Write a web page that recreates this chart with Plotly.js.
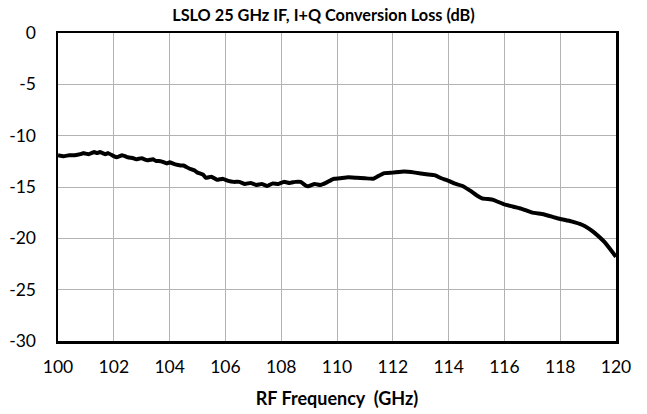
<!DOCTYPE html>
<html>
<head>
<meta charset="utf-8">
<script src="https://cdn.plot.ly/plotly-3.0.1.min.js"></script>
<style>html,body{margin:0;padding:0;background:#fff;}#chart{width:647px;height:414px;}</style>
</head>
<body>
<div id="chart"></div>
<script>
const freqGHz = [100.0,100.2,100.4,100.6,100.8,100.9,101.1,101.3,101.4,101.5,101.7,101.8,102.0,102.1,102.3,102.5,102.7,102.8,103.0,103.2,103.4,103.5,103.7,103.9,104.0,104.2,104.4,104.5,104.7,104.9,105.0,105.2,105.3,105.5,105.7,105.9,106.1,106.3,106.5,106.7,106.9,107.1,107.3,107.5,107.7,107.9,108.1,108.3,108.5,108.7,108.9,109.0,109.2,109.4,109.6,109.8,109.9,110.1,110.4,110.7,111.0,111.3,111.5,111.7,112.0,112.4,112.8,113.2,113.5,113.7,114.0,114.2,114.5,114.8,115.0,115.2,115.6,116.0,116.3,116.6,117.0,117.4,117.9,118.4,118.8,119.0,119.2,119.6,120.0];
const lossDB  = [-11.9,-12.0,-11.9,-11.9,-11.8,-11.7,-11.8,-11.6,-11.7,-11.6,-11.8,-11.7,-12.0,-12.1,-11.9,-12.1,-12.2,-12.3,-12.2,-12.4,-12.3,-12.45,-12.5,-12.7,-12.6,-12.8,-12.9,-12.9,-13.2,-13.4,-13.6,-13.8,-14.1,-14.0,-14.3,-14.2,-14.4,-14.5,-14.5,-14.7,-14.6,-14.8,-14.7,-14.9,-14.65,-14.7,-14.5,-14.6,-14.5,-14.5,-14.9,-14.9,-14.7,-14.8,-14.6,-14.3,-14.2,-14.15,-14.05,-14.1,-14.15,-14.2,-13.9,-13.65,-13.6,-13.5,-13.6,-13.75,-13.85,-14.1,-14.4,-14.65,-14.9,-15.4,-15.8,-16.1,-16.25,-16.7,-16.9,-17.1,-17.5,-17.65,-18.05,-18.35,-18.7,-19.0,-19.4,-20.4,-21.8];
const xTickVals = [100,102,104,106,108,110,112,114,116,118,120];
const yTickVals = [0,-5,-10,-15,-20,-25,-30];
const chartTitle = "LSLO 25 GHz IF, I+Q Conversion Loss (dB)";
const xTitle = "RF Frequency  (GHz)";

const fontFam = "Lato, 'Open Sans', sans-serif";
const trace = {
  x: freqGHz, y: lossDB, type: 'scatter', mode: 'lines',
  line: {color: '#000000', width: 4, shape: 'spline', smoothing: 0.3},
  hoverinfo: 'skip'
};
const layout = {
  width: 647, height: 414,
  margin: {l: 58, r: 31, t: 33, b: 73},
  paper_bgcolor: '#ffffff', plot_bgcolor: '#ffffff',
  showlegend: false,
  title: {text: chartTitle, x: 0.5, xanchor: 'center', y: 0.963, yanchor: 'middle',
          font: {family: fontFam, size: 16.3, color: '#000', weight: 'bold'}},
  xaxis: {
    range: [100, 120], tickvals: xTickVals, ticktext: xTickVals.map(String),
    showgrid: true, gridcolor: '#b3b3b3', gridwidth: 1,
    showline: true, linecolor: '#000', linewidth: 2.5, mirror: true,
    ticks: '', zeroline: false, ticklabelstandoff: 8,
    tickfont: {family: fontFam, size: 17.5, color: '#000'},
    title: {text: xTitle, standoff: 17, font: {family: fontFam, size: 18, color: '#000', weight: 'bold'}}
  },
  yaxis: {
    range: [-30, 0], tickvals: yTickVals, ticktext: yTickVals.map(String),
    showgrid: true, gridcolor: '#b3b3b3', gridwidth: 1,
    showline: true, linecolor: '#000', linewidth: 2.5, mirror: true,
    ticks: '', zeroline: false, ticklabelstandoff: 16,
    tickfont: {family: fontFam, size: 17.5, color: '#000'}
  }
};
Plotly.newPlot('chart', [trace], layout, {staticPlot: true, displayModeBar: false});
</script>
</body>
</html>
